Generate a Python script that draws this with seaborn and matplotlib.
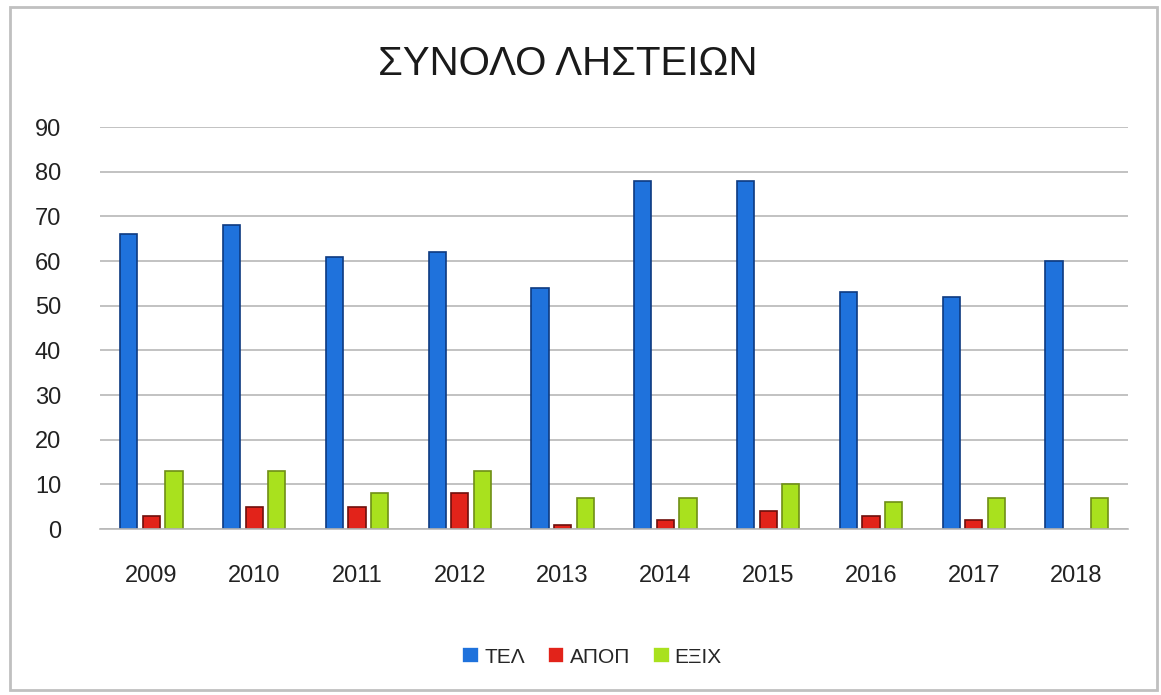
import pandas as pd
import numpy as np
import seaborn as sns
from matplotlib import pyplot as plt
from matplotlib.patches import Rectangle

years = ["2009", "2010", "2011", "2012", "2013", "2014", "2015", "2016", "2017", "2018"]
tel = [66, 68, 61, 62, 54, 78, 78, 53, 52, 60]
apop = [3, 5, 5, 8, 1, 2, 4, 3, 2, 0]
exix = [13, 13, 8, 13, 7, 7, 10, 6, 7, 7]
series = ["ΤΕΛ", "ΑΠΟΠ", "ΕΞΙΧ"]
title = "ΣΥΝΟΛΟ ΛΗΣΤΕΙΩΝ"

colors = ["#1f72dc", "#e2231a", "#a9e11e"]
edges = ["#0d3a80", "#6e0f0c", "#6f8f16"]

df = pd.DataFrame({"year": years, series[0]: tel, series[1]: apop, series[2]: exix})
df = df.melt(id_vars="year", var_name="series", value_name="count")

sns.set_style("white")
plt.rcParams["font.family"] = ["Liberation Sans", "DejaVu Sans"]

fig = plt.figure(figsize=(11.61, 6.95), dpi=100)
ax = fig.add_axes([100 / 1161, 1 - 529 / 695, 1028 / 1161, 402 / 695])

sns.barplot(
    data=df,
    x="year",
    y="count",
    hue="series",
    palette=colors,
    saturation=1,
    width=0.66,
    gap=0.24,
    linewidth=1.2,
    ax=ax,
)

# dark outline per series, nothing drawn for empty bars
for bars, ec in zip(ax.containers, edges):
    for bar in bars:
        bar.set_edgecolor(ec)
        if bar.get_height() == 0:
            bar.set_linewidth(0)

ax.set_ylim(0, 90)
ax.set_yticks(np.arange(0, 91, 10))
ax.grid(True, axis="y", color="#b8b8b8", linewidth=1.2)
ax.set_axisbelow(True)
for side in ["top", "right", "left"]:
    ax.spines[side].set_visible(False)
ax.spines["bottom"].set_color("#b8b8b8")
ax.spines["bottom"].set_linewidth(1.2)
ax.tick_params(axis="both", length=0, labelsize=17, colors="#222222")
ax.tick_params(axis="x", pad=26)
ax.tick_params(axis="y", pad=28)
ax.set_xlabel("")
ax.set_ylabel("")

fig.text(568 / 1161, 1 - 64 / 695, title, ha="center", va="center", fontsize=29, color="#1a1a1a")

ax.legend(
    loc="center",
    bbox_to_anchor=(592 / 1161, 1 - 657 / 695),
    bbox_transform=fig.transFigure,
    ncol=3,
    frameon=False,
    fontsize=15,
    handlelength=0.8,
    handleheight=0.8,
    handletextpad=0.25,
    columnspacing=1.1,
)

fig.patches.append(
    Rectangle((10 / 1161, 5 / 695), 1147 / 1161, 683 / 695, transform=fig.transFigure,
              fill=False, edgecolor="#c0c0c0", linewidth=2)
)

fig.savefig("out.png", dpi=100)
